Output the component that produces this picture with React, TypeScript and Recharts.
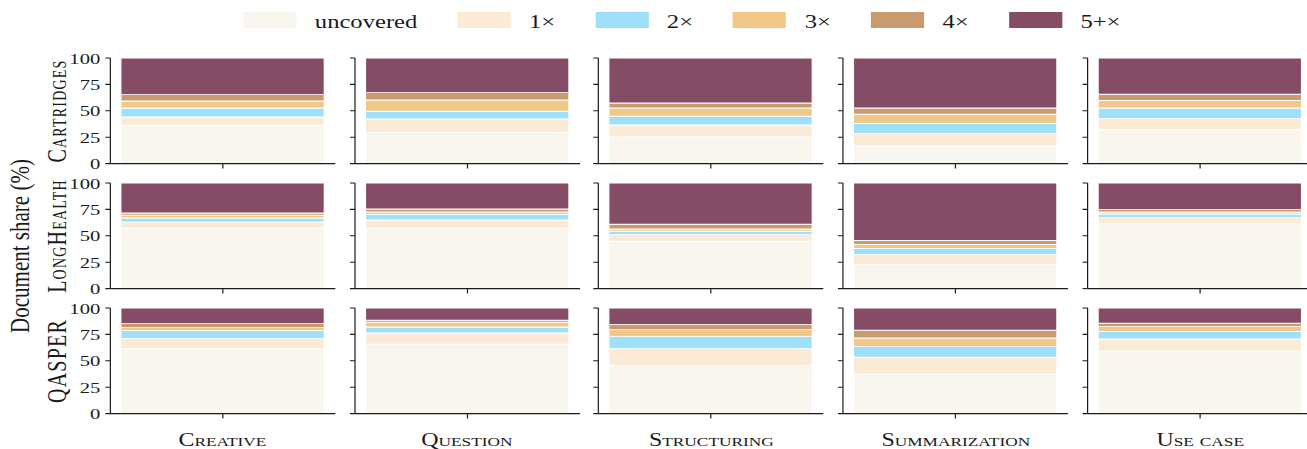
import React from "react";
import { BarChart, Bar, XAxis, YAxis } from "recharts";

const tasks = ["Creative", "Question", "Structuring", "Summarization", "Use case"];
const datasets = ["Cartridges", "LongHealth", "QASPER"];
const seriesKeys = ["uncovered", "x1", "x2", "x3", "x4", "x5"];
const seriesLabels = ["uncovered", "1\u00d7", "2\u00d7", "3\u00d7", "4\u00d7", "5+\u00d7"];
const seriesColors = ["#F9F6EF", "#FBEBD6", "#9EDFFA", "#F1C887", "#C89A6E", "#844D65"];
const yTicks = [0, 25, 50, 75, 100];

// document share per task: uncovered, 1x, 2x, 3x, 4x, 5+x
const cartridges = [
  [36.3, 7.8, 8.6, 6.6, 6.0, 34.7],
  [29.4, 12.8, 7.3, 10.7, 7.0, 32.8],
  [25.2, 11.4, 8.2, 7.9, 4.7, 42.6],
  [16.4, 12.0, 9.5, 8.8, 6.0, 47.3],
  [32.2, 10.4, 10.1, 7.0, 5.9, 34.4],
];
const longHealth = [
  [57.1, 6.0, 3.8, 2.5, 2.2, 28.4],
  [57.1, 7.9, 5.1, 2.4, 2.9, 24.6],
  [44.8, 6.3, 3.2, 2.1, 4.5, 39.1],
  [22.7, 9.5, 5.7, 3.8, 3.8, 54.5],
  [61.5, 5.7, 3.4, 1.9, 2.3, 25.2],
];
const qasper = [
  [61.5, 9.5, 7.6, 2.8, 3.8, 14.8],
  [65.6, 10.7, 5.7, 4.5, 1.9, 11.6],
  [45.7, 15.8, 11.4, 6.6, 4.8, 15.7],
  [37.2, 16.1, 10.1, 8.2, 7.3, 21.1],
  [59.0, 11.6, 7.1, 4.7, 3.1, 14.5],
];
const shares = [cartridges, longHealth, qasper];

// the figure is laid out narrow and stretched sideways, like the original
const BASE_W = 983;
const STRETCH = 1307 / BASE_W;
const FONT = "'Liberation Serif', 'Times New Roman', serif";
const INK = "#1a1a1a";

const AXIS_X0 = 82.7;
const COL_STEP = 183.85;
const PLOT_W = 169.2;
const PLOT_TOP0 = 57.7;
const ROW_STEP = 125;
const PLOT_H = 105.6;
const Y_AXIS_W = 60;
const TOP_PAD = 10;
const X_AXIS_H = 12;

const noLabel = () => "";

function Panel({ row, col }: { row: number; col: number }) {
  const values = shares[row][col];
  const datum: Record<string, string | number> = { name: tasks[col] };
  seriesKeys.forEach((k, i) => (datum[k] = values[i]));
  const left = AXIS_X0 + col * COL_STEP - Y_AXIS_W;
  const top = PLOT_TOP0 + row * ROW_STEP - TOP_PAD;
  return (
    <div style={{ position: "absolute", left, top }}>
      <BarChart
        width={Y_AXIS_W + PLOT_W + 3}
        height={TOP_PAD + PLOT_H + X_AXIS_H}
        data={[datum]}
        margin={{ top: TOP_PAD, right: 3, bottom: 0, left: 0 }}
        barCategoryGap={7.9}
      >
        <XAxis
          dataKey="name"
          height={X_AXIS_H}
          tickFormatter={noLabel}
          tickSize={5}
          axisLine={{ stroke: INK, strokeWidth: 1.2 }}
          tickLine={{ stroke: INK, strokeWidth: 0.9 }}
        />
        <YAxis
          domain={[0, 100]}
          allowDataOverflow
          ticks={yTicks}
          interval={0}
          width={Y_AXIS_W}
          tickSize={3.8}
          tickMargin={3.8}
          axisLine={{ stroke: INK, strokeWidth: 0.9 }}
          tickLine={{ stroke: INK, strokeWidth: 1.1 }}
          tickFormatter={col === 0 ? undefined : noLabel}
          tick={{ fill: INK, fontSize: 15.5, fontFamily: FONT }}
        />
        {seriesKeys.map((k, i) => (
          <Bar
            key={k}
            dataKey={k}
            stackId="share"
            fill={seriesColors[i]}
            stroke="#ffffff"
            strokeWidth={0.9}
            isAnimationActive={false}
          />
        ))}
      </BarChart>
    </div>
  );
}

function Legend() {
  return (
    <div style={{ position: "absolute", left: 182.8, top: 12, height: 16, display: "flex", alignItems: "center" }}>
      {seriesLabels.map((label, i) => (
        <div key={label} style={{ display: "flex", alignItems: "center" }}>
          <div style={{ width: 40, height: 16, background: seriesColors[i] }} />
          <span
            style={{
              marginLeft: 14,
              marginRight: 30,
              fontSize: 18.5,
              lineHeight: "16px",
              fontFamily: FONT,
              color: INK,
              position: "relative",
              top: 1.5,
              whiteSpace: "nowrap",
            }}
          >
            {label}
          </span>
        </div>
      ))}
    </div>
  );
}

function RotatedLabel({ text, cx, cy, size, spacing }: { text: string; cx: number; cy: number; size: number; spacing: number }) {
  const w = 300;
  const h = 24;
  return (
    <div
      style={{
        position: "absolute",
        left: cx - w / 2,
        top: cy - h / 2,
        width: w,
        height: h,
        lineHeight: `${h}px`,
        textAlign: "center",
        transform: "rotate(-90deg)",
        fontFamily: FONT,
        fontSize: size,
        fontVariant: "small-caps",
        letterSpacing: spacing,
        color: INK,
        whiteSpace: "nowrap",
      }}
    >
      {text}
    </div>
  );
}

export default function App() {
  return (
    <div
      style={{
        position: "absolute",
        left: 0,
        top: 0,
        width: BASE_W,
        height: 449,
        overflow: "hidden",
        background: "#ffffff",
        transform: `scaleX(${STRETCH})`,
        transformOrigin: "0 0",
      }}
    >
      <Legend />
      {datasets.map((d, r) =>
        tasks.map((t, c) => <Panel key={`${d}-${t}`} row={r} col={c} />)
      )}
      {datasets.map((d, r) => (
        <RotatedLabel key={d} text={d} cx={42.9} cy={PLOT_TOP0 + r * ROW_STEP + PLOT_H / 2} size={20} spacing={1.2} />
      ))}
      <div
        style={{
          position: "absolute",
          left: 15 - 150,
          top: 246 - 12,
          width: 300,
          height: 24,
          lineHeight: "24px",
          textAlign: "center",
          transform: "rotate(-90deg)",
          fontFamily: FONT,
          fontSize: 21,
          color: INK,
          whiteSpace: "nowrap",
        }}
      >
        Document share (%)
      </div>
      {tasks.map((t, c) => (
        <div
          key={t}
          style={{
            position: "absolute",
            left: AXIS_X0 + c * COL_STEP + PLOT_W / 2 - 100,
            top: 429,
            width: 200,
            height: 22,
            lineHeight: "22px",
            textAlign: "center",
            fontFamily: FONT,
            fontSize: 18,
            fontVariant: "small-caps",
            color: INK,
            whiteSpace: "nowrap",
          }}
        >
          {t}
        </div>
      ))}
    </div>
  );
}
